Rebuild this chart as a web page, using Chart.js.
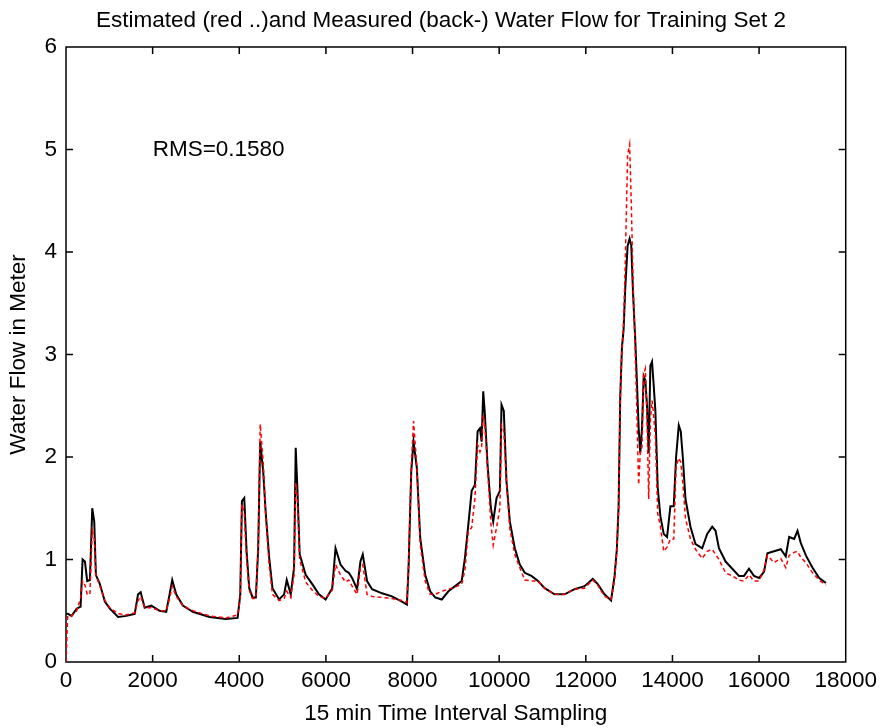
<!DOCTYPE html>
<html>
<head>
<meta charset="utf-8">
<title>Water Flow for Training Set 2</title>
<script src="https://cdn.jsdelivr.net/npm/chart.js@4.4.1/dist/chart.umd.min.js"></script>
<style>
  html, body { margin: 0; padding: 0; background: #fff; }
  #wrap { width: 882px; height: 728px; position: relative; }
</style>
</head>
<body>
<div id="wrap"><canvas id="flowChart"></canvas></div>
<script>
'use strict';
// sample index (15 min steps)
const sampleIndex = [
    0, 40, 130, 245, 337, 383, 437, 490, 552, 606, 652, 690, 782, 897, 1012, 1203, 1395, 1586, 1663, 1724,
    1816, 1969, 2161, 2314, 2391, 2452, 2544, 2697, 2927, 3311, 3694, 3962, 4023, 4061, 4115, 4169, 4230, 4307, 4383, 4437,
    4483, 4552, 4613, 4690, 4766, 4920, 5035, 5096, 5188, 5265, 5303, 5341, 5395, 5533, 5686, 5840, 5993, 6146, 6222, 6337,
    6452, 6529, 6605, 6720, 6797, 6851, 6950, 7066, 7296, 7525, 7755, 7870, 7908, 7970, 8023, 8100, 8177, 8292, 8407, 8522,
    8675, 8828, 8982, 9135, 9211, 9288, 9365, 9441, 9502, 9556, 9595, 9632, 9671, 9732, 9809, 9862, 9939, 10016, 10054, 10107,
    10169, 10246, 10361, 10476, 10591, 10744, 10897, 11050, 11280, 11510, 11740, 11970, 12161, 12276, 12430, 12583, 12664, 12718, 12757, 12795,
    12834, 12872, 12911, 12965, 13011, 13050, 13089, 13143, 13181, 13220, 13258, 13297, 13336, 13374, 13413, 13451, 13490, 13529, 13567, 13606,
    13660, 13722, 13799, 13876, 13953, 14030, 14084, 14146, 14192, 14239, 14301, 14416, 14532, 14687, 14802, 14918, 14995, 15073, 15227, 15381,
    15536, 15652, 15767, 15883, 15999, 16115, 16192, 16346, 16501, 16616, 16694, 16810, 16887, 16964, 17080, 17234, 17389, 17543
];
// measured water flow (black solid)
const measuredFlow = [
    0.47, 0.47, 0.45, 0.52, 0.54, 1.00, 0.98, 0.79, 0.80, 1.50, 1.37, 0.85, 0.76, 0.59, 0.52, 0.44, 0.45, 0.47, 0.66, 0.68,
    0.53, 0.55, 0.50, 0.49, 0.66, 0.80, 0.66, 0.55, 0.49, 0.44, 0.42, 0.43, 0.66, 1.57, 1.60, 1.08, 0.72, 0.63, 0.63, 1.11,
    2.15, 1.86, 1.44, 1.02, 0.72, 0.61, 0.66, 0.80, 0.66, 0.92, 2.09, 1.70, 1.05, 0.85, 0.76, 0.66, 0.61, 0.72, 1.11, 0.95,
    0.89, 0.87, 0.82, 0.71, 0.98, 1.05, 0.79, 0.71, 0.67, 0.64, 0.59, 0.56, 0.92, 1.86, 2.15, 1.89, 1.21, 0.85, 0.69, 0.63,
    0.61, 0.69, 0.74, 0.79, 1.02, 1.34, 1.67, 1.73, 2.25, 2.28, 2.15, 2.64, 2.41, 1.92, 1.50, 1.37, 1.60, 1.67, 2.51, 2.45,
    1.76, 1.37, 1.11, 0.95, 0.87, 0.84, 0.79, 0.72, 0.66, 0.66, 0.71, 0.74, 0.81, 0.76, 0.66, 0.60, 0.84, 1.11, 1.52, 2.59,
    3.07, 3.24, 3.65, 4.06, 4.13, 4.06, 3.61, 3.13, 2.72, 2.28, 2.04, 2.28, 2.79, 2.75, 2.50, 2.04, 2.89, 2.93, 2.70, 2.45,
    1.70, 1.42, 1.25, 1.22, 1.52, 1.52, 2.00, 2.31, 2.25, 2.00, 1.59, 1.32, 1.15, 1.11, 1.25, 1.32, 1.28, 1.11, 0.98, 0.91,
    0.84, 0.84, 0.91, 0.84, 0.82, 0.88, 1.06, 1.08, 1.10, 1.03, 1.22, 1.20, 1.28, 1.16, 1.04, 0.92, 0.82, 0.77
];
// estimated water flow (red dotted)
const estimatedFlow = [
    0.00, 0.45, 0.45, 0.50, 0.62, 0.79, 0.75, 0.66, 0.66, 1.28, 1.20, 0.85, 0.74, 0.60, 0.53, 0.47, 0.46, 0.48, 0.60, 0.64,
    0.53, 0.53, 0.50, 0.50, 0.62, 0.74, 0.64, 0.55, 0.50, 0.45, 0.43, 0.46, 0.62, 1.54, 1.45, 1.00, 0.70, 0.62, 0.62, 1.10,
    2.32, 1.95, 1.42, 0.95, 0.66, 0.60, 0.62, 0.69, 0.63, 0.85, 1.75, 1.60, 1.00, 0.78, 0.70, 0.64, 0.62, 0.70, 0.95, 0.85,
    0.78, 0.80, 0.74, 0.66, 0.92, 0.95, 0.66, 0.64, 0.63, 0.62, 0.60, 0.58, 0.95, 1.90, 2.35, 1.90, 1.15, 0.79, 0.66, 0.66,
    0.69, 0.71, 0.73, 0.76, 0.90, 1.28, 1.31, 1.60, 2.12, 2.05, 2.10, 2.41, 2.30, 1.89, 1.35, 1.14, 1.31, 1.50, 2.31, 2.25,
    1.76, 1.30, 1.05, 0.92, 0.80, 0.79, 0.79, 0.72, 0.66, 0.66, 0.71, 0.72, 0.80, 0.75, 0.64, 0.61, 0.80, 1.10, 1.50, 2.55,
    3.05, 3.30, 3.90, 4.95, 5.05, 4.47, 3.75, 3.00, 2.40, 1.73, 2.05, 2.10, 2.80, 2.86, 2.40, 1.59, 2.35, 2.55, 2.40, 2.20,
    1.45, 1.32, 1.08, 1.12, 1.20, 1.20, 1.90, 1.99, 1.95, 1.75, 1.40, 1.20, 1.10, 1.01, 1.08, 1.10, 1.05, 1.00, 0.87, 0.84,
    0.80, 0.79, 0.85, 0.79, 0.79, 0.90, 1.04, 0.97, 1.01, 0.92, 1.04, 1.07, 1.08, 1.02, 0.97, 0.87, 0.80, 0.75
];
const xTicks = [0, 2000, 4000, 6000, 8000, 10000, 12000, 14000, 16000, 18000];
const yTicks = [0, 1, 2, 3, 4, 5, 6];
const rmsNote = { x: 2000, y: 5.0, text: 'RMS=0.1580' };

const fontName = '"Liberation Sans", Arial, sans-serif';
const textSize = 22.5;

function toPoints(values) {
    const points = [];
    for (let i = 0; i < sampleIndex.length; i++) {
        points.push({ x: sampleIndex[i], y: values[i] });
    }
    return points;
}

// matlab style box: frame on all sides, ticks pointing inward
const boxPlugin = {
    id: 'matlabBox',
    beforeDatasetsDraw: function (chart) {
        const ctx = chart.ctx;
        const area = chart.chartArea;
        const xs = chart.scales.x;
        const ys = chart.scales.y;
        const tick = 7;
        ctx.save();
        ctx.strokeStyle = '#000';
        ctx.lineWidth = 1.5;
        ctx.strokeRect(area.left, area.top, area.right - area.left, area.bottom - area.top);
        ctx.beginPath();
        for (let i = 1; i < xTicks.length - 1; i++) {
            const px = xs.getPixelForValue(xTicks[i]);
            ctx.moveTo(px, area.bottom);
            ctx.lineTo(px, area.bottom - tick);
            ctx.moveTo(px, area.top);
            ctx.lineTo(px, area.top + tick);
        }
        for (let i = 1; i < yTicks.length - 1; i++) {
            const py = ys.getPixelForValue(yTicks[i]);
            ctx.moveTo(area.left, py);
            ctx.lineTo(area.left + tick, py);
            ctx.moveTo(area.right, py);
            ctx.lineTo(area.right - tick, py);
        }
        ctx.stroke();
        ctx.restore();
    },
    afterDraw: function (chart) {
        const ctx = chart.ctx;
        ctx.save();
        ctx.fillStyle = '#000';
        ctx.font = textSize + 'px ' + fontName;
        ctx.textBaseline = 'middle';
        ctx.textAlign = 'left';
        ctx.fillText(rmsNote.text, chart.scales.x.getPixelForValue(rmsNote.x), chart.scales.y.getPixelForValue(rmsNote.y));
        ctx.restore();
    }
};

const ctx = document.getElementById('flowChart');
const flowChart = new Chart(ctx, {
    type: 'line',
    data: {
        datasets: [
            {
                label: 'Estimated',
                data: toPoints(estimatedFlow),
                borderColor: '#ff0000',
                borderWidth: 1.5,
                borderDash: [4, 3],
                pointRadius: 0,
                tension: 0,
                order: 0
            },
            {
                label: 'Measured',
                data: toPoints(measuredFlow),
                borderColor: '#000000',
                borderWidth: 2,
                pointRadius: 0,
                tension: 0,
                order: 1
            }
        ]
    },
    options: {
        responsive: true,
        maintainAspectRatio: false,
        animation: false,
        layout: { padding: 0 },
        plugins: {
            legend: { display: false },
            tooltip: { enabled: false },
            title: {
                display: true,
                text: 'Estimated (red ..)and Measured (back-) Water Flow for Training Set 2',
                color: '#000',
                font: { family: fontName, size: textSize, weight: 'normal' },
                padding: { top: 7.5, bottom: 12.5 }
            }
        },
        scales: {
            x: {
                type: 'linear',
                min: 0,
                max: 18000,
                afterFit: function (scale) { scale.height = 66; },
                afterBuildTicks: function (scale) {
                    scale.ticks = xTicks.map(function (v) { return { value: v }; });
                },
                grid: { display: false, drawTicks: false },
                border: { display: false },
                ticks: {
                    color: '#000',
                    padding: 5,
                    maxRotation: 0,
                    autoSkip: false,
                    font: { family: fontName, size: textSize },
                    callback: function (v) { return String(v); }
                },
                title: {
                    display: true,
                    text: '15 min Time Interval Sampling',
                    color: '#000',
                    font: { family: fontName, size: textSize },
                    padding: { top: 0, bottom: 1 }
                }
            },
            y: {
                type: 'linear',
                min: 0,
                max: 6,
                afterFit: function (scale) { scale.width = 66; },
                afterBuildTicks: function (scale) {
                    scale.ticks = yTicks.map(function (v) { return { value: v }; });
                },
                grid: { display: false, drawTicks: false },
                border: { display: false },
                ticks: {
                    color: '#000',
                    padding: 9,
                    font: { family: fontName, size: textSize },
                    callback: function (v) { return String(v); }
                },
                title: {
                    display: true,
                    text: 'Water Flow in Meter',
                    color: '#000',
                    font: { family: fontName, size: textSize },
                    padding: { top: 5, bottom: 0 }
                }
            },
            // empty right-hand strip so the title centres on the whole figure
            yRight: {
                type: 'linear',
                position: 'right',
                min: 0,
                max: 6,
                afterFit: function (scale) { scale.width = 33; },
                grid: { display: false, drawTicks: false },
                border: { display: false },
                ticks: { display: false }
            }
        }
    },
    plugins: [boxPlugin]
});
</script>
</body>
</html>
